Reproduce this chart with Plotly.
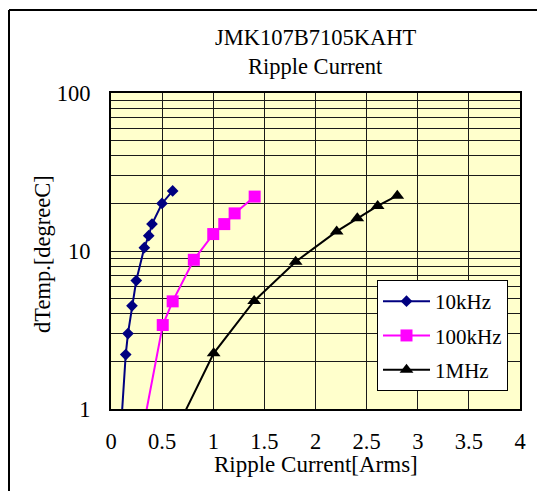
import plotly.graph_objects as go

# ---- data ----
x_10k = [0.10, 0.144, 0.166, 0.205, 0.247, 0.326, 0.369, 0.401, 0.499, 0.603]
y_10k = [0.80, 2.21, 3.0, 4.5, 6.5, 10.5, 12.5, 14.8, 20.0, 24.0]

x_100k = [0.30, 0.506, 0.603, 0.81, 1.0, 1.108, 1.209, 1.405]
y_100k = [0.68, 3.4, 4.8, 8.8, 12.8, 14.8, 17.3, 22.1]

x_1m = [0.60, 1.004, 1.40, 1.806, 2.207, 2.409, 2.608, 2.80]
y_1m = [0.66, 2.25, 4.83, 8.56, 13.3, 16.1, 19.3, 22.4]

series_names = ["10kHz", "100kHz", "1MHz"]
x_tickvals = [0, 0.5, 1, 1.5, 2, 2.5, 3, 3.5, 4]
x_ticktext = ["0", "0.5", "1", "1.5", "2", "2.5", "3", "3.5", "4"]
y_tickvals = [1, 10, 100]
y_ticktext = ["1", "10", "100"]
y_minor = [2, 3, 4, 5, 6, 7, 8, 9, 20, 30, 40, 50, 60, 70, 80, 90]

title_lines = ["JMK107B7105KAHT", "Ripple Current"]
x_title = "Ripple Current[Arms]"
y_title = "dTemp.[degreeC]"

FONT = "Liberation Serif"
FS = 22.5
FS_LEG = 21

fig = go.Figure()
fig.add_trace(go.Scatter(x=x_10k, y=y_10k, name=series_names[0], mode="lines+markers",
                         line=dict(color="#000080", width=2),
                         marker=dict(symbol="diamond", size=9, color="#000080"),
                         legendgroup="a"))
fig.add_trace(go.Scatter(x=x_100k, y=y_100k, name=series_names[1], mode="lines+markers",
                         line=dict(color="#FF00FF", width=2),
                         marker=dict(symbol="square", size=12, color="#FF00FF"),
                         legendgroup="b"))
fig.add_trace(go.Scatter(x=x_1m, y=y_1m, name=series_names[2], mode="lines+markers",
                         line=dict(color="#000000", width=2),
                         marker=dict(symbol="triangle-up", size=12, color="#000000"),
                         legendgroup="c"))

W, H = 537, 491
L, R, T, B = 111, 17, 93, 82
pw, ph = W - L - R, H - T - B

def px_x(p):
    return (p - L) / pw

def px_y(p):
    return (H - B - p) / ph

fig.update_layout(
    width=W, height=H,
    margin=dict(l=L, r=R, t=T, b=B),
    paper_bgcolor="white",
    plot_bgcolor="#FFFFCC",
    font=dict(family=FONT, size=FS, color="black"),
    showlegend=True,
    legend=dict(x=px_x(377), y=px_y(280), xanchor="left", yanchor="top",
                bgcolor="white", bordercolor="black", borderwidth=1,
                font=dict(family=FONT, size=FS_LEG, color="black"),
                tracegroupgap=4, itemwidth=47),
    xaxis=dict(range=[0, 4], tickvals=x_tickvals, ticktext=x_ticktext,
               showgrid=True, gridcolor="#1a1a1a", gridwidth=1,
               showline=True, linecolor="black", linewidth=2, mirror=True,
               ticks="outside", ticklen=11, tickcolor="rgba(0,0,0,0)",
               zeroline=False, tickfont=dict(family=FONT, size=FS)),
    yaxis=dict(type="log", range=[0, 2], tickvals=y_tickvals, ticktext=y_ticktext,
               showgrid=True, gridcolor="#1a1a1a", gridwidth=1,
               minor=dict(tickvals=y_minor, showgrid=True, gridcolor="#1a1a1a", gridwidth=1, ticks=""),
               showline=True, linecolor="black", linewidth=2, mirror=True,
               ticks="outside", ticklen=14, tickcolor="rgba(0,0,0,0)",
               zeroline=False, tickfont=dict(family=FONT, size=FS)),
    annotations=[
        dict(text=title_lines[0], xref="paper", yref="paper", x=0.5, y=px_y(38),
             showarrow=False, xanchor="center", yanchor="middle", font=dict(family=FONT, size=FS)),
        dict(text=title_lines[1], xref="paper", yref="paper", x=0.5, y=px_y(66),
             showarrow=False, xanchor="center", yanchor="middle", font=dict(family=FONT, size=FS)),
        dict(text=x_title, xref="paper", yref="paper", x=0.5, y=px_y(464),
             showarrow=False, xanchor="center", yanchor="middle", font=dict(family=FONT, size=23)),
        dict(text=y_title, xref="paper", yref="paper", x=px_x(42), y=px_y(254),
             showarrow=False, xanchor="center", yanchor="middle", textangle=-90,
             font=dict(family=FONT, size=FS)),
    ],
    shapes=[
        dict(type="line", xref="paper", yref="paper", x0=px_x(9), x1=px_x(545),
             y0=px_y(10), y1=px_y(10), line=dict(color="black", width=2)),
        dict(type="line", xref="paper", yref="paper", x0=px_x(9), x1=px_x(9),
             y0=px_y(10), y1=px_y(500), line=dict(color="black", width=2)),
    ],
)

fig.write_html("out.html", config={"displayModeBar": False},
               post_script="document.body.style.margin='0';document.body.style.overflow='hidden';")
